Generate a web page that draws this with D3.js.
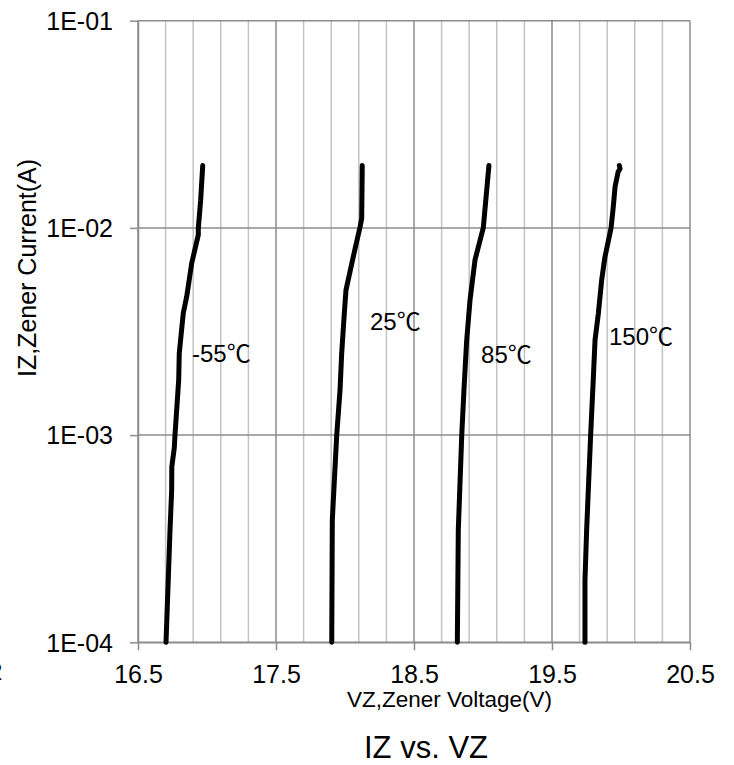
<!DOCTYPE html>
<html>
<head>
<meta charset="utf-8">
<script src="https://cdn.jsdelivr.net/npm/d3@7"></script>
<style>
  body { margin: 0; background: #fff; }
  svg text { font-family: "Liberation Sans", Arial, "Noto Sans CJK JP", sans-serif; fill: #000; }
</style>
</head>
<body>
<div id="chart"></div>
<script>
// IZ vs VZ curves
const vzM55 = [16.703, 16.732, 16.744, 16.745, 16.763, 16.768, 16.795, 16.799, 16.828, 16.853, 16.889, 16.937, 16.937, 16.954, 16.969];
const izM55 = [1.0e-4, 3.48e-4, 5.43e-4, 7.04e-4, 8.67e-4, 1.0e-3, 1.85e-3, 2.48e-3, 3.87e-3, 4.66e-3, 6.75e-3, 9.25e-3, 9.96e-3, 1.36e-2, 2.0e-2];

const vz25 = [17.904, 17.908, 17.940, 17.964, 17.976, 17.995, 18.007, 18.060, 18.109, 18.121, 18.125];
const iz25 = [1.0e-4, 3.89e-4, 1.0e-3, 1.65e-3, 2.48e-3, 3.87e-3, 5.01e-3, 7.26e-3, 1.01e-2, 1.11e-2, 2.0e-2];

const vz85 = [18.814, 18.821, 18.846, 18.864, 18.882, 18.906, 18.942, 19.002, 19.043];
const iz85 = [1.0e-4, 3.48e-4, 1.0e-3, 1.75e-3, 2.88e-3, 4.49e-3, 7.0e-3, 1.0e-2, 2.0e-2];

const vz150 = [19.739, 19.739, 19.751, 19.780, 19.799, 19.812, 19.836, 19.860, 19.884, 19.928, 19.944, 19.957, 19.979, 19.993, 19.988];
const iz150 = [1.0e-4, 2.0e-4, 3.48e-4, 1.0e-3, 1.85e-3, 2.88e-3, 3.87e-3, 5.61e-3, 7.26e-3, 1.0e-2, 1.26e-2, 1.58e-2, 1.86e-2, 1.93e-2, 2.0e-2];

const curveLabels = ['-55℃', '25℃', '85℃', '150℃'];
// where each label starts, in axis units (V, A)
const labelV = [16.891, 18.181, 18.986, 19.913];
const labelI = [2.25e-3, 3.21e-3, 2.23e-3, 2.72e-3];

const xTicks = [16.5, 17.5, 18.5, 19.5, 20.5];
const yTicks = [1e-4, 1e-3, 1e-2, 1e-1];
const yTickLabels = ['1E-04', '1E-03', '1E-02', '1E-01'];

const W = 734, H = 765;
const x = d3.scaleLinear().domain([16.5, 20.5]).range([138, 690]);
const y = d3.scaleLog().domain([1e-4, 1e-1]).range([642.3, 20.7]);

const svg = d3.select('#chart').append('svg')
  .attr('width', W)
  .attr('height', H);

svg.append('rect').attr('width', W).attr('height', H).attr('fill', '#fff');

// minor vertical grid every 0.2 V
const minor = d3.range(16.7, 20.5, 0.2).filter(v => Math.abs((v - 16.5) % 1) > 0.05 && Math.abs((v - 16.5) % 1) < 0.95);
svg.append('g').selectAll('line')
  .data(minor)
  .enter().append('line')
  .attr('x1', d => x(d)).attr('x2', d => x(d))
  .attr('y1', y(1e-1)).attr('y2', y(1e-4))
  .attr('stroke', '#c3c3c3')
  .attr('stroke-width', 1.5);

// major grid
svg.append('g').selectAll('line')
  .data(xTicks)
  .enter().append('line')
  .attr('x1', d => x(d)).attr('x2', d => x(d))
  .attr('y1', y(1e-1)).attr('y2', y(1e-4))
  .attr('stroke', '#8c8c8c')
  .attr('stroke-width', 1.5);

svg.append('g').selectAll('line')
  .data(yTicks)
  .enter().append('line')
  .attr('x1', x(16.5)).attr('x2', x(20.5))
  .attr('y1', d => y(d)).attr('y2', d => y(d))
  .attr('stroke', '#8c8c8c')
  .attr('stroke-width', 1.5);

// axes
const xAxis = svg.append('g')
  .attr('transform', `translate(0,${y(1e-4)})`)
  .call(d3.axisBottom(x).tickValues(xTicks).tickSize(8).tickSizeOuter(0).tickFormat(d3.format('.1f')));
xAxis.select('.domain').attr('stroke', '#8c8c8c').attr('stroke-width', 1.5);
xAxis.selectAll('.tick line').attr('stroke', '#8c8c8c').attr('stroke-width', 1.5);
xAxis.selectAll('.tick text').attr('y', 41).attr('dy', 0).style('font-size', '25px');

const yAxis = svg.append('g')
  .attr('transform', `translate(${x(16.5)},0)`)
  .call(d3.axisLeft(y).tickValues(yTicks).tickSize(8).tickSizeOuter(0).tickFormat((d, i) => yTickLabels[i]));
yAxis.select('.domain').attr('stroke', '#8c8c8c').attr('stroke-width', 1.5);
yAxis.selectAll('.tick line').attr('stroke', '#8c8c8c').attr('stroke-width', 1.5);
yAxis.selectAll('.tick text').attr('x', -25).attr('dy', '0.35em').style('font-size', '25px');

// curves
const series = [
  { v: vzM55, i: izM55 },
  { v: vz25, i: iz25 },
  { v: vz85, i: iz85 },
  { v: vz150, i: iz150 }
];
const line = d3.line().x(d => x(d[0])).y(d => y(d[1]));
svg.append('g').selectAll('path')
  .data(series)
  .enter().append('path')
  .attr('d', s => line(s.v.map((v, k) => [v, s.i[k]])))
  .attr('fill', 'none')
  .attr('stroke', '#000')
  .attr('stroke-width', 5)
  .attr('stroke-linejoin', 'round')
  .attr('stroke-linecap', 'round');

svg.append('g').selectAll('text')
  .data(curveLabels)
  .enter().append('text')
  .attr('x', (d, k) => x(labelV[k]))
  .attr('y', (d, k) => y(labelI[k]))
  .style('font-size', '24px')
  .text(d => d);

// axis titles
svg.append('text')
  .attr('x', 347).attr('y', 707)
  .style('font-size', '22.5px')
  .text('VZ,Zener Voltage(V)');

svg.append('text')
  .attr('transform', 'translate(36,268) rotate(-90)')
  .attr('text-anchor', 'middle')
  .style('font-size', '25px')
  .text('IZ,Zener Current(A)');

// cut-off glyph at the left edge
svg.append('text')
  .attr('x', -11).attr('y', 680)
  .style('font-size', '24px')
  .text('2');

svg.append('text')
  .attr('x', 426).attr('y', 758)
  .attr('text-anchor', 'middle')
  .style('font-size', '31px')
  .text('IZ vs. VZ');
</script>
</body>
</html>
